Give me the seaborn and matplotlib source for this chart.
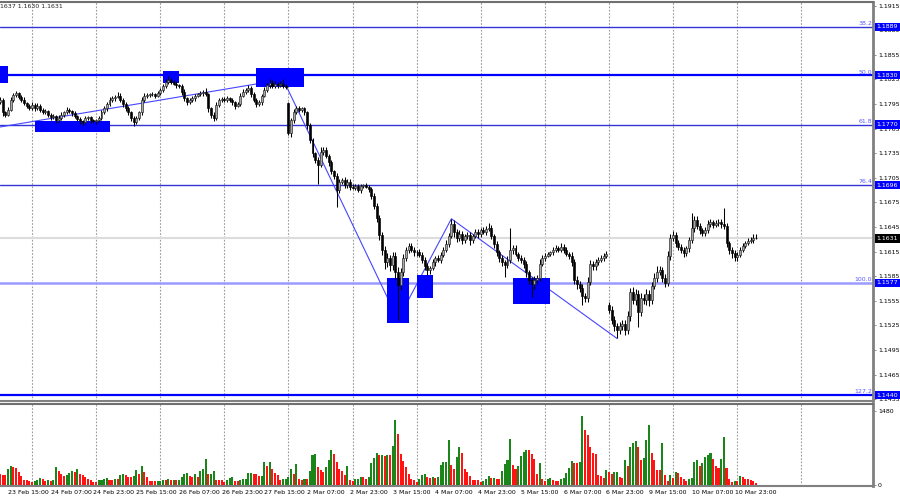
import numpy as np
import pandas as pd
import matplotlib
matplotlib.use("Agg")
import matplotlib.pyplot as plt
import matplotlib.transforms as mtransforms
from matplotlib.patches import Rectangle
from matplotlib.ticker import FormatStrFormatter
import seaborn as sns

# EURUSD H1 closes, one list per trading day
closes_0223 = [1.1800, 1.1785, 1.1782, 1.1788, 1.1800, 1.1806, 1.1808, 1.1804, 1.1800, 1.1796, 1.1793, 1.1790]
closes_0224 = [1.1794, 1.1790, 1.1793, 1.1788, 1.1785, 1.1786, 1.1782, 1.1779, 1.1780, 1.1775, 1.1778, 1.1782,
               1.1785, 1.1788, 1.1786, 1.1784, 1.1780, 1.1777, 1.1774, 1.1773, 1.1778, 1.1779, 1.1775, 1.1774]
closes_0225 = [1.1775, 1.1778, 1.1785, 1.1790, 1.1795, 1.1800, 1.1802, 1.1804, 1.1805, 1.1800, 1.1795, 1.1790,
               1.1785, 1.1778, 1.1773, 1.1778, 1.1785, 1.1800, 1.1805, 1.1806, 1.1807, 1.1807, 1.1805, 1.1808]
closes_0226 = [1.1812, 1.1817, 1.1822, 1.1824, 1.1822, 1.1820, 1.1818, 1.1817, 1.1810, 1.1802, 1.1797, 1.1800,
               1.1802, 1.1805, 1.1807, 1.1808, 1.1810, 1.1807, 1.1790, 1.1782, 1.1778, 1.1794, 1.1800, 1.1801]
closes_0227 = [1.1800, 1.1802, 1.1800, 1.1797, 1.1793, 1.1795, 1.1805, 1.1810, 1.1812, 1.1815, 1.1807, 1.1800,
               1.1795, 1.1797, 1.1805, 1.1812, 1.1818, 1.1821, 1.1817, 1.1820, 1.1818, 1.1820, 1.1817, 1.1816]
closes_0302 = [1.1760, 1.1775, 1.1785, 1.1790, 1.1788, 1.1790, 1.1785, 1.1769, 1.1751, 1.1735, 1.1727, 1.1721,
               1.1737, 1.1739, 1.1732, 1.1724, 1.1713, 1.1707, 1.1690, 1.1700, 1.1702, 1.1696, 1.1700, 1.1694]
closes_0303 = [1.1693, 1.1695, 1.1690, 1.1695, 1.1696, 1.1694, 1.1691, 1.1683, 1.1671, 1.1656, 1.1635, 1.1617,
               1.1602, 1.1607, 1.1599, 1.1610, 1.1590, 1.1574, 1.1590, 1.1607, 1.1617, 1.1622, 1.1617, 1.1614]
closes_0304 = [1.1614, 1.1611, 1.1605, 1.1597, 1.1592, 1.1595, 1.1602, 1.1607, 1.1605, 1.1611, 1.1617, 1.1624,
               1.1634, 1.1649, 1.1639, 1.1632, 1.1636, 1.1629, 1.1634, 1.1635, 1.1629, 1.1634, 1.1639, 1.1636]
closes_0305 = [1.1641, 1.1639, 1.1643, 1.1644, 1.1634, 1.1624, 1.1614, 1.1607, 1.1602, 1.1599, 1.1605, 1.1617,
               1.1619, 1.1612, 1.1607, 1.1605, 1.1600, 1.1590, 1.1580, 1.1575, 1.1580, 1.1583, 1.1600, 1.1607]
closes_0306 = [1.1610, 1.1612, 1.1614, 1.1617, 1.1619, 1.1617, 1.1621, 1.1617, 1.1612, 1.1610, 1.1602, 1.1580,
               1.1575, 1.1571, 1.1561, 1.1558, 1.1578, 1.1600, 1.1597, 1.1602, 1.1605, 1.1607, 1.1610, 1.1612]
closes_0309 = [1.1544, 1.1532, 1.1524, 1.1519, 1.1524, 1.1527, 1.1519, 1.1536, 1.1566, 1.1556, 1.1563, 1.1541,
               1.1558, 1.1556, 1.1563, 1.1556, 1.1573, 1.1583, 1.1590, 1.1592, 1.1583, 1.1577, 1.1610, 1.1632]
closes_0310 = [1.1635, 1.1625, 1.1621, 1.1617, 1.1613, 1.1619, 1.1629, 1.1644, 1.1654, 1.1646, 1.1641, 1.1638,
               1.1641, 1.1649, 1.1651, 1.1648, 1.1650, 1.1651, 1.1649, 1.1646, 1.1625, 1.1617, 1.1613, 1.1608]
closes_0311 = [1.1611, 1.1617, 1.1622, 1.1625, 1.1628, 1.1629, 1.1632, 1.1631]

# wick lengths above / below the body, in pips
wick_up_0223 = [3, 2, 2, 3, 4, 2, 3, 2, 2, 3, 2, 2]
wick_dn_0223 = [2, 4, 3, 2, 2, 3, 2, 3, 2, 2, 3, 2]
wick_up_0224 = [3, 2, 3, 2, 2, 3, 2, 2, 3, 2, 4, 3, 2, 3, 2, 2, 3, 2, 2, 2, 3, 2, 2, 2]
wick_dn_0224 = [2, 3, 2, 3, 2, 2, 3, 4, 2, 3, 2, 2, 3, 2, 2, 3, 2, 3, 3, 4, 2, 2, 3, 2]
wick_up_0225 = [2, 2, 3, 3, 2, 4, 3, 2, 5, 3, 2, 2, 3, 2, 2, 3, 2, 4, 3, 2, 2, 3, 2, 3]
wick_dn_0225 = [3, 2, 2, 2, 3, 2, 2, 3, 2, 3, 3, 4, 3, 4, 5, 2, 2, 3, 2, 3, 2, 2, 3, 2]
wick_up_0226 = [3, 3, 4, 5, 3, 2, 3, 2, 2, 3, 2, 2, 3, 2, 2, 3, 2, 4, 2, 2, 3, 4, 2, 2]
wick_dn_0226 = [2, 2, 2, 3, 3, 2, 3, 3, 4, 3, 3, 2, 2, 3, 2, 2, 3, 2, 5, 4, 4, 3, 2, 3]
wick_up_0227 = [2, 3, 2, 2, 2, 3, 4, 3, 2, 3, 2, 3, 2, 3, 2, 4, 3, 4, 3, 3, 2, 3, 5, 2]
wick_dn_0227 = [3, 2, 3, 3, 4, 2, 2, 2, 3, 2, 4, 3, 4, 2, 3, 2, 2, 3, 3, 2, 3, 2, 3, 3]
wick_up_0302 = [2, 3, 4, 3, 3, 2, 2, 2, 3, 2, 2, 3, 5, 4, 3, 2, 3, 2, 4, 3, 3, 4, 3, 3]
wick_dn_0302 = [3, 5, 3, 2, 3, 3, 3, 4, 3, 5, 4, 23, 3, 4, 3, 4, 3, 4, 21, 3, 3, 4, 3, 4]
wick_up_0303 = [3, 2, 3, 2, 2, 3, 2, 3, 3, 3, 4, 4, 5, 6, 4, 5, 4, 6, 5, 5, 4, 3, 4, 3]
wick_dn_0303 = [2, 3, 2, 3, 3, 2, 3, 4, 4, 5, 6, 6, 8, 6, 8, 6, 8, 42, 6, 5, 4, 4, 3, 4]
wick_up_0304 = [3, 4, 3, 3, 4, 3, 4, 3, 4, 3, 4, 5, 4, 6, 4, 4, 5, 4, 3, 4, 4, 3, 4, 3]
wick_dn_0304 = [4, 3, 4, 5, 6, 4, 3, 4, 3, 4, 3, 3, 4, 3, 6, 5, 4, 5, 4, 4, 6, 3, 3, 4]
wick_up_0305 = [3, 4, 3, 6, 3, 3, 4, 3, 4, 3, 4, 27, 4, 4, 3, 4, 3, 4, 3, 4, 5, 4, 6, 4]
wick_dn_0305 = [3, 3, 4, 3, 4, 5, 4, 5, 4, 15, 4, 4, 5, 3, 4, 4, 5, 6, 5, 15, 6, 4, 4, 3]
wick_up_0306 = [3, 3, 2, 3, 4, 3, 4, 3, 3, 3, 4, 4, 5, 4, 5, 4, 6, 5, 4, 4, 3, 4, 3, 4]
wick_dn_0306 = [3, 2, 3, 3, 2, 3, 3, 4, 3, 4, 5, 5, 6, 5, 11, 5, 5, 4, 5, 4, 3, 3, 4, 3]
wick_up_0309 = [3, 4, 5, 4, 5, 4, 5, 6, 5, 6, 6, 5, 6, 5, 6, 5, 5, 6, 8, 5, 4, 5, 6, 5]
wick_dn_0309 = [4, 5, 6, 10, 4, 5, 6, 5, 6, 5, 6, 18, 5, 5, 6, 7, 5, 4, 5, 4, 5, 5, 4, 5]
wick_up_0310 = [5, 4, 4, 3, 4, 3, 4, 18, 5, 4, 4, 3, 4, 5, 4, 3, 4, 4, 4, 19, 4, 3, 3, 4]
wick_dn_0310 = [4, 5, 4, 4, 5, 3, 4, 4, 5, 4, 5, 4, 4, 3, 4, 4, 3, 4, 5, 4, 4, 5, 6, 4]
wick_up_0311 = [3, 3, 4, 3, 3, 4, 4, 5]
wick_dn_0311 = [4, 3, 3, 3, 2, 3, 3, 1]

# opens that do not equal the previous close (first bar, weekend gaps)
gap_opens = {0: 1.1797, 108: 1.1796, 228: 1.1550}

# tick volumes
vol_0223 = [217, 210, 205, 329, 375, 362, 349, 263, 178, 99, 97, 86]
vol_0224 = [59, 86, 99, 138, 112, 86, 99, 86, 99, 362, 283, 230, 178, 197, 243, 283, 263, 329, 217, 197, 151, 112, 99, 66]
vol_0225 = [59, 99, 100, 125, 138, 99, 97, 125, 112, 204, 217, 191, 165, 151, 178, 296, 230, 375, 263, 165, 86, 84, 72, 75]
vol_0226 = [86, 99, 95, 112, 99, 105, 99, 105, 165, 217, 243, 178, 151, 217, 165, 283, 329, 526, 217, 230, 283, 99, 97, 95]
vol_0227 = [66, 99, 132, 165, 86, 84, 99, 112, 125, 243, 245, 217, 215, 178, 180, 467, 388, 454, 329, 243, 197, 99, 125, 128]
vol_0302 = [151, 329, 217, 415, 125, 99, 125, 122, 283, 592, 612, 362, 296, 263, 362, 507, 691, 612, 467, 329, 283, 191, 375, 99]
vol_0303 = [86, 112, 125, 165, 151, 112, 165, 441, 546, 638, 592, 600, 590, 600, 592, 790, 1296, 1020, 612, 480, 362, 217, 112, 99]
vol_0304 = [66, 125, 197, 230, 151, 132, 151, 148, 165, 395, 454, 460, 901, 395, 329, 559, 757, 645, 329, 263, 178, 99, 97, 95]
vol_0305 = [66, 86, 112, 178, 132, 138, 125, 120, 283, 415, 507, 921, 395, 316, 375, 572, 658, 704, 700, 612, 526, 230, 441, 112]
vol_0306 = [72, 112, 138, 99, 88, 86, 125, 132, 243, 349, 480, 441, 438, 454, 1382, 1099, 1007, 757, 638, 625, 191, 189, 132, 309]
vol_0309 = [270, 230, 257, 258, 151, 132, 507, 388, 770, 836, 888, 770, 494, 546, 901, 1204, 638, 494, 296, 294, 836, 191, 72, 197]
vol_0310 = [138, 270, 243, 151, 125, 86, 125, 138, 461, 494, 388, 441, 559, 592, 645, 526, 388, 336, 526, 967, 336, 112, 66, 86]
vol_0311 = [72, 178, 151, 125, 118, 99, 80, 46]

fib_pct = ["38.2", "50.0", "61.8", "76.4", "100.0", "127.2"]
fib_price = [1.1889, 1.1830, 1.1770, 1.1696, 1.1577, 1.1440]
last_price = 1.1631
ohlc_text = "1637 1.1630 1.1631"

# supply / demand boxes: (first bar, last bar, low, high)
zones = [(-1, 3, 1.1821, 1.1841), (13, 41, 1.1761, 1.1774), (61, 67, 1.1821, 1.1835),
         (96, 114, 1.1816, 1.1839), (145, 153, 1.1528, 1.1583), (156, 162, 1.1558, 1.1586),
         (192, 206, 1.1551, 1.1583)]

zigzag_bars = [0, 106, 149, 169, 231]
zigzag_price = [1.1767, 1.1825, 1.1532, 1.1655, 1.1509]

days = ["0223", "0224", "0225", "0226", "0227", "0302", "0303", "0304", "0305", "0306", "0309", "0310", "0311"]
g = globals()
closes = sum([g["closes_" + d] for d in days], [])
wick_up = sum([g["wick_up_" + d] for d in days], [])
wick_dn = sum([g["wick_dn_" + d] for d in days], [])
volumes = sum([g["vol_" + d] for d in days], [])

times = pd.date_range("2026-02-23 12:00", "2026-03-11 07:00", freq="h")
times = times[times.dayofweek < 5]
n = len(times)
idx = np.arange(n)

opens = []
prev = None
for i, cl in enumerate(closes):
    opens.append(gap_opens.get(i, prev))
    prev = cl
o = np.array(opens)
c = np.array(closes)
hi = np.maximum(o, c) + np.array(wick_up) / 1e4
lo = np.minimum(o, c) - np.array(wick_dn) / 1e4
bull = c >= o

vol_dir = ["up" if i > 0 and volumes[i] > volumes[i - 1] else "down" for i in range(n)]
vol_df = pd.DataFrame({"bar": idx, "vol": volumes, "dir": vol_dir})

sns.set_style("white")
plt.rcParams["font.family"] = ["DejaVu Sans"]

XMAX = 873 / 2.671
fig = plt.figure(figsize=(9, 5), dpi=100)
ax = fig.add_axes([0, 0.198, 0.97, 0.798])
axv = fig.add_axes([0, 0.028, 0.97, 0.164])

# day separators
grid_bars = list(idx[times.hour == 0]) + [n + 16]
for a in (ax, axv):
    for b in grid_bars:
        a.axvline(b, color="#9a9a9a", lw=0.8, ls=(0, (1.5, 1.5)), zorder=0.5)

# fibo levels
fib_lw = [1, 1.6, 1, 1, 1.8, 1.6]
fib_col = ["#3434d6", "#0000ff", "#3434d6", "#3434d6", "#9a9aff", "#0000ff"]
ax.axhline(last_price, color="#dcdcdc", lw=1.5, zorder=0.8)
for p, lw, col in zip(fib_price, fib_lw, fib_col):
    ax.axhline(p, color=col, lw=lw, zorder=1)

sns.lineplot(x=zigzag_bars, y=zigzag_price, ax=ax, sort=False, estimator=None,
             color="#4646ff", lw=0.8, zorder=2)

for b0, b1, zlo, zhi in zones:
    ax.add_patch(Rectangle((b0, zlo), b1 - b0, zhi - zlo, facecolor="#0000ff",
                           edgecolor="none", zorder=3))

# candles
ax.vlines(idx, lo, hi, color="black", lw=0.75, zorder=5)
body_lo = np.minimum(o, c)
body_h = np.maximum(np.abs(c - o), 0.00005)
ax.bar(idx, body_h, bottom=body_lo, width=0.74,
       color=np.where(bull, "#a8a8a8", "black"), edgecolor=np.where(bull, "#202020", "black"),
       linewidth=0.45, zorder=6)

ax.set_xlim(0, XMAX)
ax.set_ylim(1.14327, 1.19195)
ax.set_xticks([])
ax.yaxis.tick_right()
ax.set_yticks(np.arange(1.1435, 1.1920, 0.0030))
ax.yaxis.set_major_formatter(FormatStrFormatter("%.4f"))
ax.tick_params(axis="y", length=2, width=0.6, colors="#808080", labelcolor="black",
               labelsize=4.5, pad=1.5)
ax.set_xlabel("")
ax.set_ylabel("")

trans = mtransforms.blended_transform_factory(ax.transAxes, ax.transData)
for pct, p in zip(fib_pct, fib_price):
    ax.text(0.999, p + 0.0001, pct, transform=trans, ha="right", va="bottom",
            fontsize=4.5, color="#5a5aff", zorder=20)
    ax.text(1.004, p, f"{p:.4f}", transform=trans, ha="left", va="center", fontsize=4.5,
            color="white", zorder=20, clip_on=False,
            bbox=dict(boxstyle="square,pad=0.25", fc="#0000ff", ec="none"))
ax.text(1.004, last_price, f"{last_price:.4f}", transform=trans, ha="left", va="center",
        fontsize=4.5, color="white", zorder=20, clip_on=False,
        bbox=dict(boxstyle="square,pad=0.25", fc="black", ec="none"))
ax.text(0.0, 0.996, ohlc_text, transform=ax.transAxes, ha="left", va="top", fontsize=4.5)

# volumes
sns.barplot(data=vol_df, x="bar", y="vol", hue="dir",
            palette={"up": "#1a861a", "down": "#ff1414"}, dodge=False, legend=False,
            width=0.76, errorbar=None, saturation=1, linewidth=0, ax=axv, zorder=3)
axv.set_xlim(0, XMAX)
axv.set_ylim(-20, 1620)
axv.yaxis.tick_right()
axv.set_yticks([0, 1480])
axv.set_yticklabels(["0", "1480"])
label_bars = list(range(3, n, 16))
axv.set_xticks(label_bars)
axv.set_xticklabels([f"{times[b].day} {times[b]:%b %H:%M}" for b in label_bars], ha="left")
axv.tick_params(axis="x", length=2, width=0.6, colors="#808080", labelcolor="black",
                labelsize=4.5, pad=1)
axv.tick_params(axis="y", length=2, width=0.6, colors="#808080", labelcolor="black",
                labelsize=4.5, pad=1.5)
axv.set_xlabel("")
axv.set_ylabel("")

for a in (ax, axv):
    a.spines["left"].set_visible(False)
    a.spines["right"].set_color("#808080")
    a.spines["right"].set_linewidth(2)
    a.spines["top"].set_color("#707070")
    a.spines["top"].set_linewidth(1.5)
    a.spines["bottom"].set_color("#808080")
    a.spines["bottom"].set_linewidth(1.5)

fig.savefig("out.png", dpi=100)
